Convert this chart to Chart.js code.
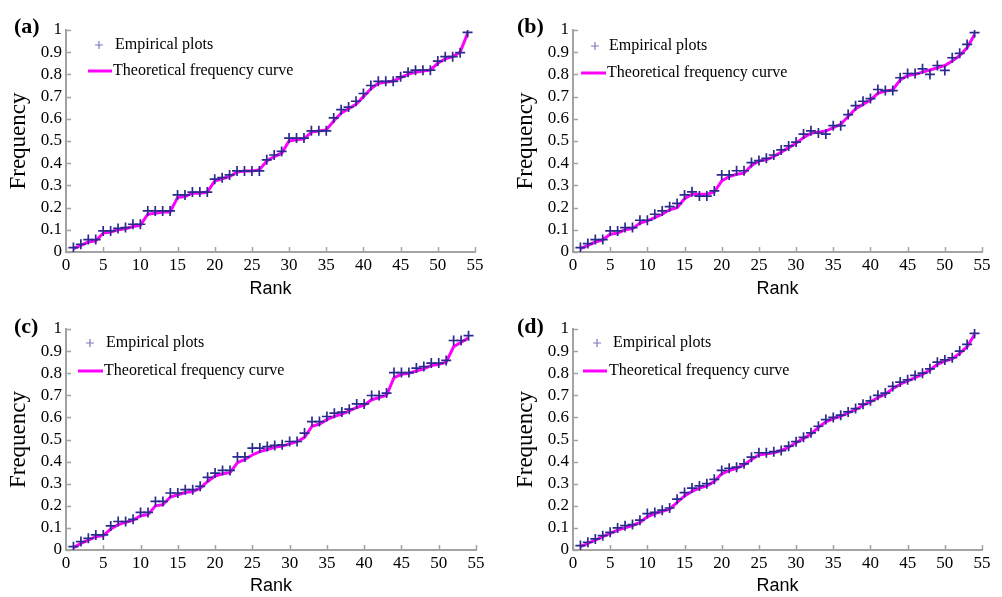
<!DOCTYPE html>
<html>
<head>
<meta charset="utf-8">
<script src="https://cdn.jsdelivr.net/npm/chart.js@4"></script>
<style>
  html, body { margin: 0; padding: 0; background: #fff; }
  body { width: 1002px; height: 597px; position: relative; overflow: hidden; }
  canvas { position: absolute; }
</style>
</head>
<body>
<canvas id="ca" width="501" height="300" style="left:0;top:0"></canvas>
<canvas id="cb" width="501" height="300" style="left:501px;top:0"></canvas>
<canvas id="cc" width="501" height="300" style="left:0;top:297px"></canvas>
<canvas id="cd" width="501" height="300" style="left:501px;top:297px"></canvas>
<script>
// rank of each observation
const rank = [1,2,3,4,5,6,7,8,9,10,11,12,13,14,15,16,17,18,19,20,21,22,23,24,25,26,27,
  28,29,30,31,32,33,34,35,36,37,38,39,40,41,42,43,44,45,46,47,48,49,50,51,52,53,54];

// (a)
const empA = [0.02,0.035,0.056,0.056,0.095,0.095,0.106,0.11,0.125,0.125,
  0.185,0.185,0.185,0.185,0.257,0.257,0.27,0.27,0.27,0.328,
  0.335,0.347,0.365,0.365,0.365,0.365,0.415,0.437,0.453,0.513,
  0.513,0.513,0.546,0.546,0.546,0.604,0.641,0.653,0.679,0.714,
  0.75,0.769,0.769,0.769,0.789,0.81,0.819,0.819,0.819,0.86,
  0.88,0.88,0.898,0.989];
const theoA = [0.015,0.03,0.045,0.05,0.085,0.09,0.1,0.105,0.115,0.12,
  0.17,0.175,0.18,0.18,0.245,0.25,0.265,0.265,0.27,0.32,
  0.33,0.34,0.36,0.365,0.365,0.37,0.41,0.43,0.445,0.5,
  0.505,0.51,0.54,0.545,0.55,0.59,0.625,0.645,0.665,0.7,
  0.735,0.76,0.765,0.77,0.785,0.8,0.81,0.815,0.82,0.85,
  0.87,0.88,0.9,0.985];

// (b)
const empB = [0.02,0.038,0.056,0.056,0.095,0.095,0.11,0.11,0.143,0.143,
  0.17,0.185,0.204,0.219,0.257,0.271,0.252,0.252,0.275,0.347,
  0.347,0.366,0.366,0.403,0.412,0.422,0.437,0.46,0.478,0.495,
  0.531,0.546,0.536,0.531,0.569,0.569,0.619,0.659,0.679,0.691,
  0.732,0.727,0.727,0.785,0.804,0.804,0.825,0.8,0.84,0.818,
  0.875,0.895,0.935,0.988];
const theoB = [0.015,0.03,0.045,0.055,0.08,0.085,0.1,0.105,0.13,0.14,
  0.155,0.17,0.19,0.2,0.24,0.26,0.26,0.26,0.27,0.32,
  0.34,0.35,0.355,0.39,0.41,0.415,0.43,0.45,0.47,0.49,
  0.515,0.535,0.54,0.545,0.56,0.575,0.61,0.645,0.665,0.685,
  0.715,0.725,0.73,0.775,0.795,0.8,0.81,0.82,0.83,0.84,
  0.86,0.885,0.92,0.98];

// (c)
const empC = [0.015,0.038,0.053,0.068,0.068,0.109,0.129,0.129,0.139,0.17,
  0.17,0.22,0.22,0.258,0.258,0.273,0.273,0.288,0.329,0.348,
  0.36,0.36,0.421,0.421,0.461,0.461,0.468,0.473,0.476,0.491,
  0.491,0.529,0.581,0.581,0.604,0.619,0.624,0.637,0.661,0.661,
  0.699,0.699,0.71,0.803,0.803,0.803,0.823,0.83,0.846,0.846,
  0.858,0.948,0.948,0.97];
const theoC = [0.01,0.03,0.045,0.06,0.065,0.095,0.115,0.125,0.135,0.155,
  0.16,0.2,0.205,0.24,0.25,0.26,0.265,0.28,0.31,0.335,
  0.345,0.35,0.395,0.41,0.43,0.445,0.455,0.465,0.47,0.48,
  0.49,0.51,0.56,0.57,0.59,0.605,0.615,0.63,0.645,0.655,
  0.68,0.69,0.7,0.78,0.795,0.8,0.81,0.82,0.835,0.84,
  0.85,0.92,0.94,0.96];

// (d)
const empD = [0.02,0.035,0.05,0.065,0.08,0.1,0.11,0.115,0.135,0.165,
  0.17,0.18,0.19,0.23,0.26,0.28,0.29,0.3,0.32,0.36,
  0.37,0.375,0.39,0.42,0.44,0.44,0.445,0.45,0.47,0.49,
  0.51,0.53,0.56,0.59,0.6,0.61,0.625,0.64,0.66,0.675,
  0.7,0.71,0.74,0.76,0.77,0.79,0.8,0.82,0.85,0.86,
  0.87,0.9,0.93,0.98];
const theoD = [0.015,0.03,0.045,0.06,0.075,0.09,0.1,0.11,0.125,0.15,
  0.165,0.175,0.185,0.215,0.245,0.265,0.28,0.29,0.31,0.345,
  0.36,0.37,0.385,0.41,0.43,0.435,0.44,0.45,0.465,0.485,
  0.505,0.525,0.555,0.58,0.595,0.605,0.62,0.635,0.655,0.67,
  0.69,0.705,0.73,0.75,0.765,0.78,0.795,0.815,0.84,0.855,
  0.865,0.89,0.92,0.975];

const xTicks = [0,5,10,15,20,25,30,35,40,45,50,55];
const yTicks = [0,0.1,0.2,0.3,0.4,0.5,0.6,0.7,0.8,0.9,1];
const legendLabels = ['Empirical plots', 'Theoretical frequency curve'];

const AXIS = '#a3a3a3';
const SERIF = "'Liberation Serif', 'Times New Roman', serif";
const SANS = "'Liberation Sans', Arial, sans-serif";

// small tick marks pointing into the plot, like the original figure
const innerTicks = {
  id: 'innerTicks',
  afterDraw(chart) {
    const { ctx, chartArea: a, scales: { x, y } } = chart;
    ctx.save();
    ctx.strokeStyle = AXIS;
    ctx.lineWidth = 1.5;
    ctx.beginPath();
    x.ticks.forEach(t => {
      const px = Math.round(x.getPixelForValue(t.value)) + 0.5;
      ctx.moveTo(px, a.bottom);
      ctx.lineTo(px, a.bottom - 5);
    });
    y.ticks.forEach(t => {
      const py = Math.round(y.getPixelForValue(t.value)) + 0.5;
      ctx.moveTo(a.left, py);
      ctx.lineTo(a.left + 5, py);
    });
    ctx.stroke();
    ctx.restore();
  }
};

// legend inside the plot + panel letter
const panelDecor = {
  id: 'panelDecor',
  afterDraw(chart, args, o) {
    const { ctx, chartArea: a } = chart;
    const lg = o.legend;
    ctx.save();
    // plus marker
    const mx = a.left + lg.px, my = a.top + lg.py;
    ctx.strokeStyle = '#7a7ac4';
    ctx.lineWidth = 1.2;
    ctx.beginPath();
    ctx.moveTo(mx - 4, my); ctx.lineTo(mx + 4, my);
    ctx.moveTo(mx, my - 4); ctx.lineTo(mx, my + 4);
    ctx.stroke();
    // magenta line
    ctx.strokeStyle = '#ff00ff';
    ctx.lineWidth = 3;
    ctx.beginPath();
    ctx.moveTo(a.left + lg.lx1, a.top + lg.ly);
    ctx.lineTo(a.left + lg.lx2, a.top + lg.ly);
    ctx.stroke();
    ctx.fillStyle = '#000';
    ctx.font = '16px ' + SERIF;
    ctx.textBaseline = 'middle';
    ctx.fillText(legendLabels[0], a.left + lg.tx1, my);
    ctx.fillText(legendLabels[1], a.left + lg.tx2, a.top + lg.ly);
    // panel tag
    ctx.font = 'bold 22px ' + SERIF;
    ctx.textBaseline = 'alphabetic';
    ctx.fillText(o.tag, o.tagX, o.tagY);
    ctx.restore();
  }
};

function makeChart(id, emp, theo, cfg) {
  const pts = arr => rank.map((r, i) => ({ x: r, y: arr[i] }));
  return new Chart(document.getElementById(id), {
    type: 'scatter',
    data: {
      datasets: [
        {
          label: legendLabels[0],
          data: pts(emp),
          pointStyle: 'cross',
          pointRadius: 5,
          pointBorderWidth: 1.7,
          borderColor: '#2b2b8f',
          backgroundColor: '#2b2b8f',
          showLine: false,
          order: 0
        },
        {
          type: 'line',
          label: legendLabels[1],
          data: pts(theo),
          borderColor: '#ff00ff',
          borderWidth: 3,
          pointRadius: 0,
          tension: 0,
          fill: false,
          order: 1
        }
      ]
    },
    options: {
      responsive: false,
      animation: false,
      events: [],
      layout: { padding: cfg.padding },
      plugins: {
        legend: { display: false },
        tooltip: { enabled: false },
        panelDecor: { tag: cfg.tag, tagX: cfg.tagX, tagY: cfg.tagY, legend: cfg.legend }
      },
      scales: {
        x: {
          type: 'linear',
          min: 0,
          max: 55,
          afterFit: s => { s.height = cfg.xHeight; },
          afterBuildTicks: s => { s.ticks = xTicks.map(v => ({ value: v })); },
          grid: { display: true, drawOnChartArea: false, drawTicks: false },
          border: { display: true, color: AXIS, width: 2 },
          ticks: { autoSkip: false, padding: 3, color: '#000', font: { family: SERIF, size: 17 }, maxRotation: 0 },
          title: { display: true, text: 'Rank', color: '#000', font: { family: SANS, size: 18 }, padding: { top: 0, bottom: 0 } }
        },
        y: {
          type: 'linear',
          min: 0,
          max: 1,
          afterFit: s => { s.width = 66; },
          afterBuildTicks: s => { s.ticks = yTicks.map(v => ({ value: v })); },
          grid: { display: true, drawOnChartArea: false, drawTicks: false },
          border: { display: true, color: AXIS, width: 2 },
          ticks: {
            autoSkip: false,
            padding: 4,
            color: '#000',
            font: { family: SERIF, size: 17 },
            callback: v => String(Number(v.toFixed(1)))
          },
          title: { display: true, text: 'Frequency', color: '#000', font: { family: SERIF, size: 23 }, padding: { top: 5, bottom: 0 } }
        }
      }
    },
    plugins: [innerTicks, panelDecor]
  });
}

makeChart('ca', empA, theoA, {
  tag: '(a)', tagX: 14, tagY: 33,
  padding: { top: 30, right: 26, bottom: 0, left: 0 }, xHeight: 48,
  legend: { px: 33, py: 15, tx1: 49, lx1: 22, lx2: 46, ly: 41, tx2: 47 }
});
makeChart('cb', empB, theoB, {
  tag: '(b)', tagX: 16, tagY: 33,
  padding: { top: 30, right: 20, bottom: 0, left: 6 }, xHeight: 48,
  legend: { px: 22, py: 16, tx1: 36, lx1: 8, lx2: 33, ly: 43, tx2: 34 }
});
makeChart('cc', empC, theoC, {
  tag: '(c)', tagX: 14, tagY: 36,
  padding: { top: 32, right: 25, bottom: 0, left: 0 }, xHeight: 47,
  legend: { px: 24, py: 14, tx1: 40, lx1: 12, lx2: 37, ly: 42, tx2: 38 }
});
makeChart('cd', empD, theoD, {
  tag: '(d)', tagX: 16, tagY: 36,
  padding: { top: 32, right: 20, bottom: 0, left: 6 }, xHeight: 47,
  legend: { px: 24, py: 14, tx1: 40, lx1: 10, lx2: 34, ly: 42, tx2: 36 }
});
</script>
</body>
</html>
